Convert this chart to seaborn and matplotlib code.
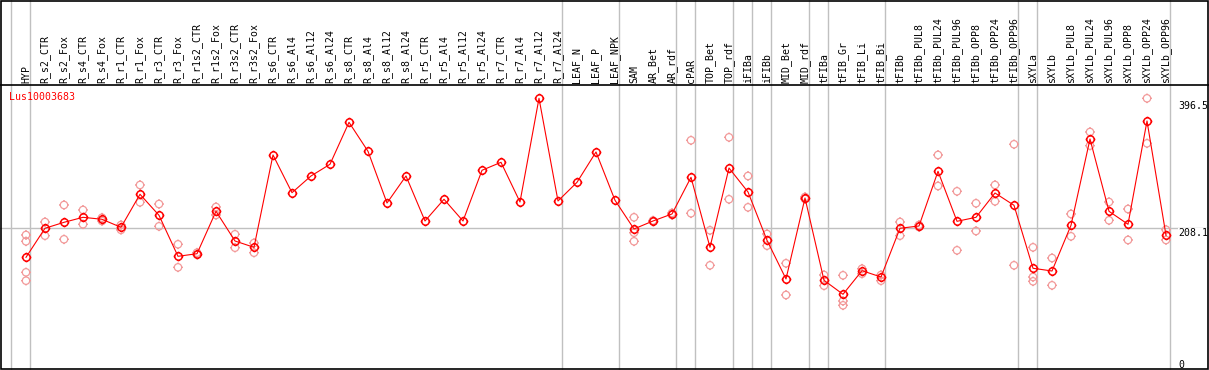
import numpy as np
import pandas as pd
import matplotlib
matplotlib.use("Agg")
import matplotlib.pyplot as plt
import seaborn as sns
from matplotlib.path import Path
from matplotlib.patches import Rectangle

# ---------------- data ----------------
labels = ["HYP", "R_s2_CTR", "R_s2_Fox", "R_s4_CTR", "R_s4_Fox", "R_r1_CTR", "R_r1_Fox",
          "R_r3_CTR", "R_r3_Fox", "R_r1s2_CTR", "R_r1s2_Fox", "R_r3s2_CTR", "R_r3s2_Fox",
          "R_s6_CTR", "R_s6_Al4", "R_s6_Al12", "R_s6_Al24", "R_s8_CTR", "R_s8_Al4",
          "R_s8_Al12", "R_s8_Al24", "R_r5_CTR", "R_r5_Al4", "R_r5_Al12", "R_r5_Al24",
          "R_r7_CTR", "R_r7_Al4", "R_r7_Al12", "R_r7_Al24", "LEAF_N", "LEAF_P", "LEAF_NPK",
          "SAM", "AR_Bet", "AR_rdf", "cPAR", "TOP_Bet", "TOP_rdf", "iFIBa", "iFIBb",
          "MID_Bet", "MID_rdf", "tFIBa", "tFIB_Gr", "tFIB_Li", "tFIB_Bi", "tFIBb",
          "tFIBb_PUL8", "tFIBb_PUL24", "tFIBb_PUL96", "tFIBb_OPP8", "tFIBb_OPP24", "tFIBb_OPP96",
          "sXYLa", "sXYLb", "sXYLb_PUL8", "sXYLb_PUL24", "sXYLb_PUL96", "sXYLb_OPP8",
          "sXYLb_OPP24", "sXYLb_OPP96"]

means = [162.2, 208.1, 217.5, 225.4, 222.3, 209.6, 261.8, 228.6, 163.8, 167.9, 234.9, 188.0, 178.0,
         323.9, 264.3, 290.7, 309.2, 375.5, 329.7, 248.0, 290.7, 219.6, 253.9, 219.6, 299.7,
         312.3, 249.6, 413.4, 251.2, 280.7, 328.6, 252.3,
         207.0, 219.6, 230.7, 288.6, 178.0, 303.3, 265.4, 189.1,
         128.0, 255.9, 125.9, 103.8, 141.1, 131.1, 208.1,
         211.7, 298.1, 219.1, 225.4, 263.8, 244.4,
         144.9, 140.6, 212.8, 349.1, 234.9, 214.4, 377.6, 197.0]

replicates = [
    [197.5, 187.5, 138.5, 125.3], [218.0, 196.4], [244.9, 190.7], [237.0, 214.4], [224.8, 219.6],
    [213.3, 205.6], [276.5, 249.1], [246.4, 211.2], [182.8, 146.4], [169.5, 166.4],
    [241.7, 229.1], [198.6, 177.4], [184.8, 169.5],
    [], [], [], [], [], [], [], [], [], [], [], [], [], [], [], [], [], [], [],
    [225.4, 201.1, 187.5], [219.0, 220.3], [232.2, 229.1], [347.1, 231.8], [204.9, 149.6],
    [351.8, 253.9], [290.7, 241.2], [199.1, 180.6],
    [152.8, 102.7], [257.5, 254.4], [134.3, 117.4], [133.8, 93.2, 86.4], [144.2, 136.3],
    [134.3, 125.3], [218.0, 196.4],
    [213.3, 210.1], [323.9, 274.9], [266.5, 173.3], [247.6, 203.8], [276.5, 250.7], [340.8, 149.6],
    [178.0, 131.1, 124.3], [161.1, 118.0], [230.7, 195.4], [360.2, 338.6], [249.6, 220.7],
    [238.5, 189.6], [413.4, 342.3], [205.8, 189.6],
]

group_ends = [-1, 0, 28, 31, 34, 35, 37, 38, 39, 41, 42, 45, 52, 53, 60]
ref_values = [396.5, 208.1, 0]
gene_name = "Lus10003683"

# ---------------- frames ----------------
mean_df = pd.DataFrame({"idx": np.arange(len(labels)), "value": means})
rep_df = pd.DataFrame([(i, v) for i, reps in enumerate(replicates) for v in reps],
                      columns=["idx", "value"])

# marker: circle with four small outward ticks
circle = Path.unit_circle()
tick_len = 1.32
ticks = [Path([(1, 0), (tick_len, 0)], [Path.MOVETO, Path.LINETO]),
         Path([(-1, 0), (-tick_len, 0)], [Path.MOVETO, Path.LINETO]),
         Path([(0, 1), (0, tick_len)], [Path.MOVETO, Path.LINETO]),
         Path([(0, -1), (0, -tick_len)], [Path.MOVETO, Path.LINETO])]
mk = Path.make_compound_path(circle, *ticks)

fig = plt.figure(figsize=(12.09, 3.70), dpi=100)
ax = fig.add_axes([0, 0, 1, 1])

mono = "DejaVu Sans Mono"
fs = 7.1

# grid / separators
for g in group_ends:
    ax.axvline(g + 0.23, color="#c0c0c0", lw=1.0, zorder=1)
ax.axhline(208.1, color="#c0c0c0", lw=1.0, zorder=1)
ax.axhline(434.4, color="black", lw=1.2, zorder=2)

# replicates
sns.scatterplot(data=rep_df, x="idx", y="value", ax=ax, marker=mk, s=49,
                facecolors="none", edgecolor="#f29a9a", linewidth=0.9,
                legend=False, zorder=3)

# means line
sns.lineplot(data=mean_df, x="idx", y="value", ax=ax, color="#ff0000", lw=0.8,
             marker=mk, markersize=7.0, markerfacecolor="none",
             markeredgecolor="#ff0000", markeredgewidth=1.1,
             legend=False, zorder=4, errorbar=None)
ax.set_xlim(-1.368, 62.263)
ax.set_ylim(-15.8, 568.7)
ax.axis("off")

# header labels
for i, lab in enumerate(labels):
    ax.text(i, 437.1, lab, rotation=90, ha="center", va="bottom",
            fontsize=fs, family=mono, color="black")

# gene name
ax.text(-0.895, 415.5, gene_name, ha="left", va="center", fontsize=fs,
        family=mono, color="#ff0000")

# right value labels
xr = 60.63
ax.text(xr, ref_values[0], f"{ref_values[0]}", ha="left", va="baseline",
        fontsize=fs, family=mono, color="black",
        bbox=dict(facecolor="white", edgecolor="none", pad=0.3))
ax.text(xr, ref_values[1], f"{ref_values[1]}", ha="left", va="top",
        fontsize=fs, family=mono, color="black",
        bbox=dict(facecolor="white", edgecolor="none", pad=0.3))
ax.text(xr, ref_values[2], f"{ref_values[2]}", ha="left", va="top",
        fontsize=fs, family=mono, color="black")

# outer frame
ax.add_patch(Rectangle((1 / 1209, 0.7 / 370), 1206.5 / 1209, 368.8 / 370,
                       transform=ax.transAxes, fill=False, edgecolor="black",
                       lw=1.2, clip_on=False, zorder=5))

fig.savefig("out.png", dpi=100)
